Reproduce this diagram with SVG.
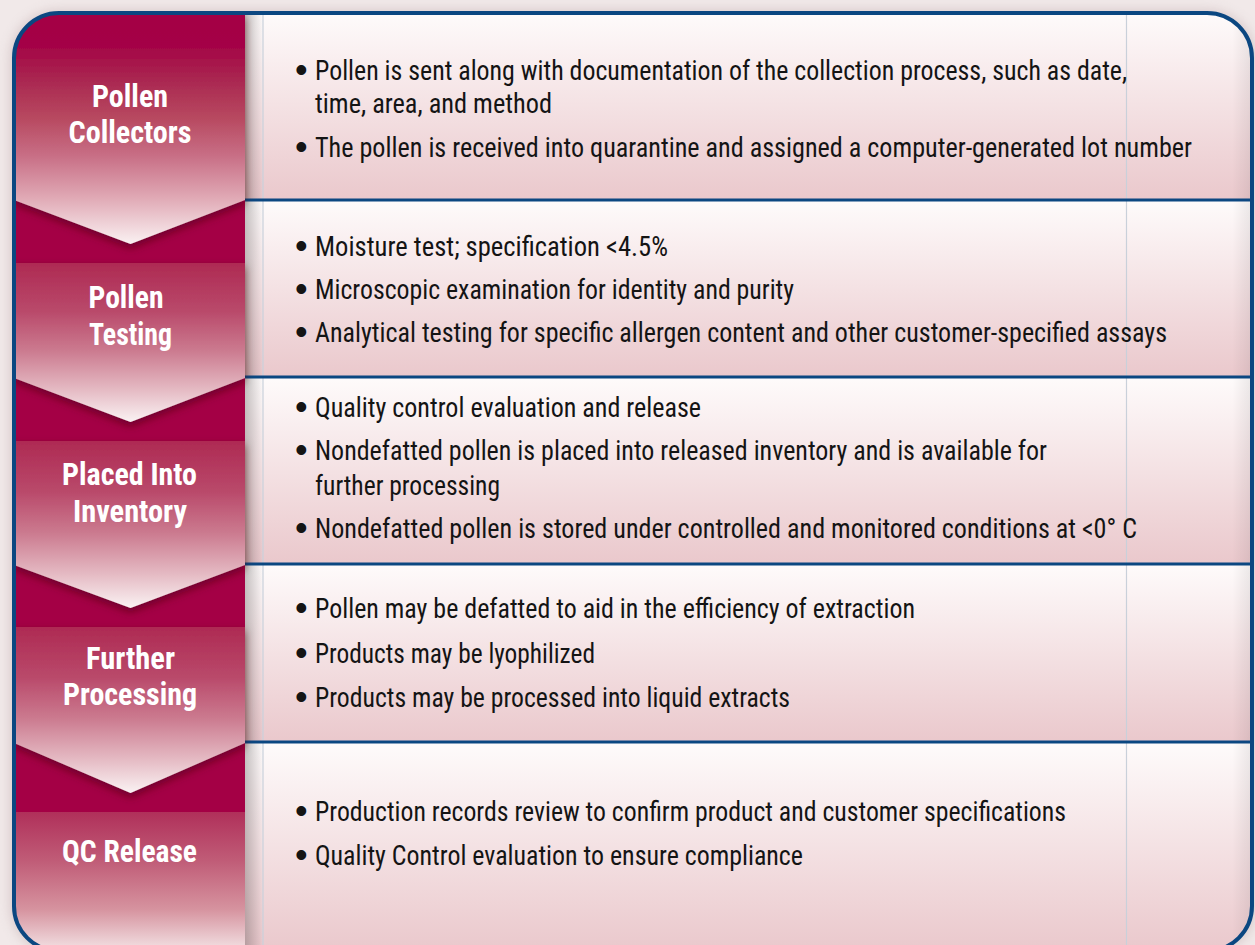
<svg xmlns="http://www.w3.org/2000/svg" width="1255" height="945" viewBox="0 0 1255 945">
  <defs>
    <style>
      .lbl { font-family: "Liberation Sans Narrow", "Roboto Condensed", "DejaVu Sans Condensed", "Liberation Sans", sans-serif; font-stretch: condensed; font-weight: bold; font-size: 31px; fill: #ffffff; text-anchor: middle; }
      .txt { font-family: "Liberation Sans Narrow", "Roboto Condensed", "DejaVu Sans Condensed", "Liberation Sans", sans-serif; font-stretch: condensed; font-size: 27px; fill: #141414; }
      .bul { font-family: "Liberation Sans", sans-serif; font-size: 36px; fill: #141414; }
      .sep { stroke: #0b4781; stroke-width: 3; }
      .faint { stroke: #c9d0da; stroke-width: 1.2; }
    </style>
    <linearGradient id="gS1" x1="0" y1="0" x2="0" y2="1">
      <stop offset="0" stop-color="#a40044"/>
      <stop offset="0.14" stop-color="#a40346"/>
      <stop offset="0.28" stop-color="#a92550"/>
      <stop offset="0.45" stop-color="#b7485f"/>
      <stop offset="0.62" stop-color="#c86f86"/>
      <stop offset="0.8" stop-color="#e0a9b5"/>
      <stop offset="1" stop-color="#faf1f2"/>
    </linearGradient>
    <linearGradient id="gS" x1="0" y1="0" x2="0" y2="1">
      <stop offset="0" stop-color="#ae2a53"/>
      <stop offset="0.3" stop-color="#b9496a"/>
      <stop offset="0.55" stop-color="#cb7a8f"/>
      <stop offset="0.8" stop-color="#e5bbc4"/>
      <stop offset="1" stop-color="#faf2f3"/>
    </linearGradient>
    <linearGradient id="gS5" x1="0" y1="0" x2="0" y2="1">
      <stop offset="0" stop-color="#b0305a"/>
      <stop offset="0.35" stop-color="#c05c77"/>
      <stop offset="0.7" stop-color="#d6939f"/>
      <stop offset="1" stop-color="#f3e3e5"/>
    </linearGradient>
    <linearGradient id="gRow" x1="0" y1="0" x2="0" y2="1">
      <stop offset="0" stop-color="#fefbfb"/>
      <stop offset="1" stop-color="#eac8cc"/>
    </linearGradient>
    <linearGradient id="gShade" x1="0" y1="0" x2="1" y2="0">
      <stop offset="0" stop-color="#000000" stop-opacity="0.22"/>
      <stop offset="1" stop-color="#000000" stop-opacity="0"/>
    </linearGradient>
    <linearGradient id="gShadeR" x1="0" y1="0" x2="1" y2="0">
      <stop offset="0" stop-color="#000000" stop-opacity="0"/>
      <stop offset="1" stop-color="#000000" stop-opacity="0.08"/>
    </linearGradient>
    <filter id="vshadow" x="-10%" y="-10%" width="120%" height="130%">
      <feDropShadow dx="0" dy="4" stdDeviation="4" flood-color="#4a0018" flood-opacity="0.6"/>
    </filter>
    <filter id="frameShadow" x="-5%" y="-5%" width="110%" height="110%">
      <feGaussianBlur stdDeviation="6"/>
    </filter>
    <clipPath id="inner">
      <rect x="14" y="13" width="1238" height="938" rx="45" ry="45"/>
    </clipPath>
  </defs>

  <rect x="0" y="0" width="1255" height="945" fill="#f1e9e9"/>
  <rect x="10" y="10" width="1246" height="944" rx="48" fill="#b9a3a6" opacity="0.45" filter="url(#frameShadow)"/>

  <g clip-path="url(#inner)">
    <rect x="14" y="13" width="1238" height="938" fill="#a40045"/>
    <rect x="245" y="13" width="1008" height="187" fill="url(#gRow)"/>
    <rect x="245" y="200" width="1008" height="177" fill="url(#gRow)"/>
    <rect x="245" y="377" width="1008" height="187" fill="url(#gRow)"/>
    <rect x="245" y="564" width="1008" height="178" fill="url(#gRow)"/>
    <rect x="245" y="742" width="1008" height="209" fill="url(#gRow)"/>
    <rect x="245" y="13" width="18" height="938" fill="url(#gShade)"/>
    <rect x="1232" y="13" width="21" height="938" fill="url(#gShadeR)"/>
    <line class="faint" x1="263" y1="13" x2="263" y2="951"/>
    <line class="faint" x1="1126.5" y1="13" x2="1126.5" y2="951"/>
  </g>

  <g id="connectors">
    <line class="sep" x1="245" y1="200" x2="1252" y2="200"/>
    <line class="sep" x1="245" y1="377" x2="1252" y2="377"/>
    <line class="sep" x1="245" y1="564" x2="1252" y2="564"/>
    <line class="sep" x1="245" y1="742" x2="1252" y2="742"/>
  </g>

  <g clip-path="url(#inner)">
    <g id="stage-pollen-collectors">
      <path d="M14,13 H245 V200 L130.5,244 L14,200 Z" fill="url(#gS1)" filter="url(#vshadow)"/>
      <text class="lbl" x="130" y="107" textLength="76" lengthAdjust="spacingAndGlyphs">Pollen</text>
      <text class="lbl" x="130" y="143" textLength="123" lengthAdjust="spacingAndGlyphs">Collectors</text>
    </g>
    <g id="stage-pollen-testing">
      <path d="M14,263 H245 V378 L130.5,422 L14,378 Z" fill="url(#gS)" filter="url(#vshadow)"/>
      <text class="lbl" x="126" y="308" textLength="75" lengthAdjust="spacingAndGlyphs">Pollen</text>
      <text class="lbl" x="130.5" y="345" textLength="83" lengthAdjust="spacingAndGlyphs">Testing</text>
    </g>
    <g id="stage-placed-into-inventory">
      <path d="M14,441 H245 V565 L130.5,608 L14,565 Z" fill="url(#gS)" filter="url(#vshadow)"/>
      <text class="lbl" x="129.5" y="485" textLength="135" lengthAdjust="spacingAndGlyphs">Placed Into</text>
      <text class="lbl" x="130" y="522" textLength="114" lengthAdjust="spacingAndGlyphs">Inventory</text>
    </g>
    <g id="stage-further-processing">
      <path d="M14,627 H245 V743 L130.5,793 L14,743 Z" fill="url(#gS)" filter="url(#vshadow)"/>
      <text class="lbl" x="130.5" y="669" textLength="89" lengthAdjust="spacingAndGlyphs">Further</text>
      <text class="lbl" x="130" y="705" textLength="134" lengthAdjust="spacingAndGlyphs">Processing</text>
    </g>
    <g id="stage-qc-release">
      <path d="M14,812 H245 V951 H14 Z" fill="url(#gS5)"/>
      <text class="lbl" x="129.5" y="862" textLength="135" lengthAdjust="spacingAndGlyphs">QC Release</text>
    </g>
  </g>

  <rect x="14" y="13" width="1238" height="938" rx="45" ry="45" fill="none" stroke="#0b4781" stroke-width="4"/>

  <g id="details-pollen-collectors">
    <text class="bul" x="295" y="82">•</text>
    <text class="txt" x="315" y="80" textLength="812" lengthAdjust="spacingAndGlyphs">Pollen is sent along with documentation of the collection process, such as date,</text>
    <text class="txt" x="315" y="113" textLength="237" lengthAdjust="spacingAndGlyphs">time, area, and method</text>
    <text class="bul" x="295" y="159">•</text>
    <text class="txt" x="315" y="157" textLength="877" lengthAdjust="spacingAndGlyphs">The pollen is received into quarantine and assigned a computer-generated lot number</text>
  </g>
  <g id="details-pollen-testing">
    <text class="bul" x="295" y="258">•</text>
    <text class="txt" x="315" y="256" textLength="353" lengthAdjust="spacingAndGlyphs">Moisture test; specification &lt;4.5%</text>
    <text class="bul" x="295" y="301">•</text>
    <text class="txt" x="315" y="299" textLength="479" lengthAdjust="spacingAndGlyphs">Microscopic examination for identity and purity</text>
    <text class="bul" x="295" y="344">•</text>
    <text class="txt" x="315" y="342" textLength="852" lengthAdjust="spacingAndGlyphs">Analytical testing for specific allergen content and other customer-specified assays</text>
  </g>
  <g id="details-placed-into-inventory">
    <text class="bul" x="295" y="419">•</text>
    <text class="txt" x="315" y="417" textLength="386" lengthAdjust="spacingAndGlyphs">Quality control evaluation and release</text>
    <text class="bul" x="295" y="462">•</text>
    <text class="txt" x="315" y="460" textLength="732" lengthAdjust="spacingAndGlyphs">Nondefatted pollen is placed into released inventory and is available for</text>
    <text class="txt" x="315" y="495" textLength="185" lengthAdjust="spacingAndGlyphs">further processing</text>
    <text class="bul" x="295" y="540">•</text>
    <text class="txt" x="315" y="538" textLength="822" lengthAdjust="spacingAndGlyphs">Nondefatted pollen is stored under controlled and monitored conditions at &lt;0° C</text>
  </g>
  <g id="details-further-processing">
    <text class="bul" x="295" y="620">•</text>
    <text class="txt" x="315" y="618" textLength="600" lengthAdjust="spacingAndGlyphs">Pollen may be defatted to aid in the efficiency of extraction</text>
    <text class="bul" x="295" y="665">•</text>
    <text class="txt" x="315" y="663" textLength="280" lengthAdjust="spacingAndGlyphs">Products may be lyophilized</text>
    <text class="bul" x="295" y="709">•</text>
    <text class="txt" x="315" y="707" textLength="475" lengthAdjust="spacingAndGlyphs">Products may be processed into liquid extracts</text>
  </g>
  <g id="details-qc-release">
    <text class="bul" x="295" y="823">•</text>
    <text class="txt" x="315" y="821" textLength="751" lengthAdjust="spacingAndGlyphs">Production records review to confirm product and customer specifications</text>
    <text class="bul" x="295" y="867">•</text>
    <text class="txt" x="315" y="865" textLength="488" lengthAdjust="spacingAndGlyphs">Quality Control evaluation to ensure compliance</text>
  </g>
</svg>
